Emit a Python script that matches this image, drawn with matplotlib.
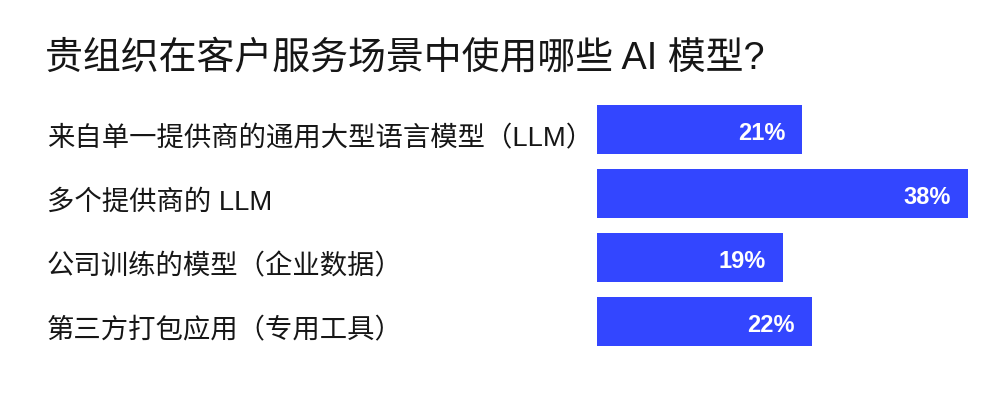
import matplotlib
matplotlib.use("Agg")
import matplotlib.pyplot as plt
import matplotlib.transforms as mtransforms

plt.rcParams['font.family'] = ['Liberation Sans', 'Noto Sans CJK SC', 'DejaVu Sans']

# data
title = "贵组织在客户服务场景中使用哪些 AI 模型?"
categories = [
    "来自单一提供商的通用大型语言模型（LLM）",
    "多个提供商的 LLM",
    "公司训练的模型（企业数据）",
    "第三方打包应用（专用工具）",
]
values = [21, 38, 19, 22]

bar_color = "#3346FF"
text_color = "#161616"

fig = plt.figure(figsize=(10, 4), dpi=100)
fig.patch.set_facecolor("white")

# axes placed so that 0..38% maps to x = 597..968 px
ax = fig.add_axes([0.597, 0.1163, 0.371, 0.64])
ypos = list(range(len(categories)))
ax.barh(ypos, values, height=0.76, color=bar_color, edgecolor="none")
ax.set_xlim(0, max(values))
ax.set_ylim(len(categories) - 0.5, -0.5)
ax.axis("off")

# percentage labels inside the bar end
offset = mtransforms.offset_copy(ax.transData, fig=fig, x=-17, y=-4, units="dots")
for y, v in zip(ypos, values):
    ax.text(v, y, f"{v}%", transform=offset, ha="right", va="center",
            color="white", fontsize=17, fontweight="bold")

# category labels on the left, in figure x coordinates
blend = mtransforms.blended_transform_factory(fig.transFigure, ax.transData)
for y, cat in zip(ypos, categories):
    ax.text(0.047, y + 0.15, cat, transform=blend, ha="left", va="center",
            color=text_color, fontsize=19.7, clip_on=False)

fig.text(0.045, 1 - 58 / 400, title, ha="left", va="center",
         color=text_color, fontsize=27.3)

fig.savefig("out.png", dpi=100, facecolor="white")
